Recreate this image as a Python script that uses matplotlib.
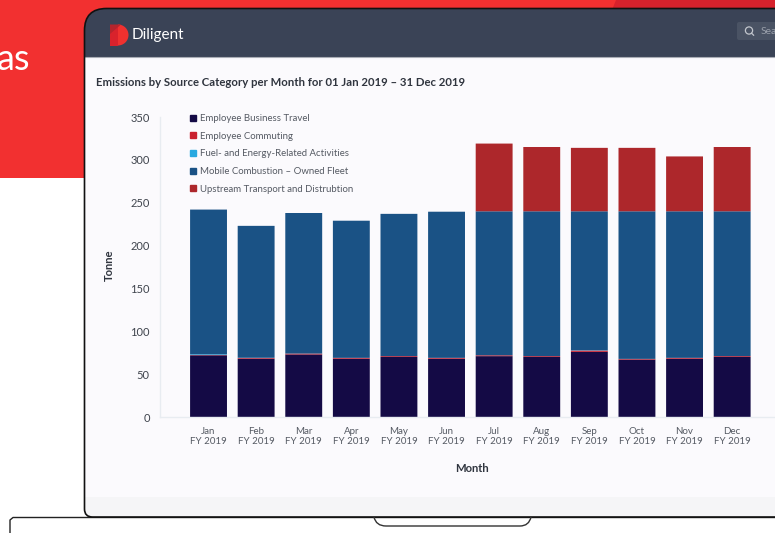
import matplotlib
matplotlib.use("Agg")
import matplotlib.pyplot as plt
from matplotlib.path import Path
from matplotlib.patches import PathPatch, Rectangle, Wedge, Circle, FancyBboxPatch, Polygon
from matplotlib.lines import Line2D

plt.rcParams['font.family'] = ['Lato', 'DejaVu Sans']

months = ["Jan", "Feb", "Mar", "Apr", "May", "Jun", "Jul", "Aug", "Sep", "Oct", "Nov", "Dec"]
tick_labels = [m + "\nFY 2019" for m in months]
y_ticks = [0, 50, 100, 150, 200, 250, 300, 350]
series_names = ["Employee Business Travel", "Employee Commuting",
                "Fuel- and Energy-Related Activities",
                "Mobile Combustion \u2013 Owned Fleet",
                "Upstream Transport and Distrubtion"]
business_travel = [72, 68, 73, 68, 70, 68, 71, 70, 76, 67, 68, 70]
commuting = [0.4, 0.8, 1, 1, 1, 1, 1, 1, 1.5, 0.8, 1, 1]
fuel_energy = [0.8, 0.3, 0, 0, 0, 0, 0, 0, 0.3, 0, 0, 0]
mobile_combustion = [168.8, 153.9, 164, 160, 166, 170.5, 168, 169, 162.2, 172.2, 171, 169]
upstream = [0, 0, 0, 0, 0, 0, 79, 75, 74, 74, 64, 75]
series = [business_travel, commuting, fuel_energy, mobile_combustion, upstream]
colors = ["#140a45", "#c9202f", "#29a9e0", "#1a5285", "#ad272b"]

W, H = 775, 533
fig = plt.figure(figsize=(W / 100, H / 100), dpi=100, facecolor="white")

bg = fig.add_axes([0, 0, 1, 1])
bg.set_xlim(0, W)
bg.set_ylim(H, 0)
bg.axis("off")


def screen_path(x0, y0, x1, y1, rt, rb):
    """Panel with large top-left and small bottom-left corners, open to the right."""
    verts = [(x1, y0), (x0 + rt, y0), (x0, y0), (x0, y0 + rt),
             (x0, y1 - rb), (x0, y1), (x0 + rb, y1), (x1, y1), (x1, y0)]
    codes = [Path.MOVETO, Path.LINETO, Path.CURVE3, Path.CURVE3,
             Path.LINETO, Path.CURVE3, Path.CURVE3, Path.LINETO, Path.CLOSEPOLY]
    return Path(verts, codes)


# red backdrop
bg.add_patch(Rectangle((0, 0), W, 178, color="#f23030", lw=0, zorder=0))
bg.add_patch(Polygon([(616, 0), (W, 0), (W, 10), (612, 10)], color="#d6222c", lw=0, zorder=0.5))
bg.text(-3, 60, "as", color="white", fontsize=26, va="center", ha="left", zorder=1)

# screen
scr = screen_path(84.5, 8.5, W + 5, 517, 22, 8)
panel = PathPatch(scr, facecolor="#fbfafd", edgecolor="none", zorder=2)
bg.add_patch(panel)
foot = Rectangle((84, 497), W, 21, color="#f5f5f7", lw=0, zorder=2.1)
bg.add_patch(foot)
foot.set_clip_path(panel)
head = Rectangle((84, 8), W, 49, color="#3a4356", lw=0, zorder=2.2)
bg.add_patch(head)
head.set_clip_path(panel)
bg.add_line(Line2D([84, W], [57.3, 57.3], color="#a9adb5", lw=0.8, zorder=2.3))
bg.add_patch(PathPatch(scr, facecolor="none", edgecolor="#111111", lw=1.2, zorder=3))

# laptop base lines
bg.add_line(Line2D([10, 10, 13, W], [533, 520, 517.5, 517.5], color="#222222", lw=1.0, zorder=1.5))
base = Path([(374, 517), (376, 526), (386, 526), (520, 526), (529, 526), (531, 517)],
            [Path.MOVETO, Path.CURVE3, Path.CURVE3, Path.LINETO, Path.CURVE3, Path.CURVE3])
bg.add_patch(PathPatch(base, facecolor="none", edgecolor="#333333", lw=1.0, zorder=3))

# logo
bg.add_patch(Wedge((118, 35), 10.5, -90, 90, color="#f0312f", lw=0, zorder=4))
bg.add_patch(Rectangle((110, 24.5), 8, 21, color="#d9222c", lw=0, zorder=4))
bg.add_patch(Polygon([(110, 24.5), (121, 24.5), (110, 34)], color="#b5242c", lw=0, zorder=4.1))
bg.text(132, 35.5, "Diligent", color="white", fontsize=11, va="center", ha="left", zorder=4)

# search box
bg.add_patch(FancyBboxPatch((737, 22), 60, 18, boxstyle="round,pad=0,rounding_size=2",
                            facecolor="#4a5364", edgecolor="none", zorder=4))
bg.add_patch(Circle((749, 30.5), 3.6, facecolor="none", edgecolor="#c2c6cd", lw=0.9, zorder=5))
bg.add_line(Line2D([751.6, 753.6], [33.2, 35.2], color="#c2c6cd", lw=0.9, zorder=5))
bg.text(761, 31, "Search", color="#9aa0ab", fontsize=7.5, va="center", ha="left", zorder=5)

# title
bg.text(96.5, 82, "Emissions by Source Category per Month for 01 Jan 2019 \u2013 31 Dec 2019",
        color="#30353f", fontsize=8.2, fontweight="bold", va="center", ha="left", zorder=5)

# chart
left, right, top, bottom = 159.5, W, 117, 417
ax = fig.add_axes([left / W, 1 - bottom / H, (right - left) / W, (bottom - top) / H])
ax.patch.set_alpha(0)
x = list(range(len(months)))
base_vals = [0.0] * len(months)
for name, vals, col in zip(series_names, series, colors):
    bars = ax.bar(x, vals, width=0.775, bottom=base_vals, color=col, linewidth=0, label=name)
    for b in bars:
        b.set_snap(False)
    base_vals = [b + v for b, v in zip(base_vals, vals)]
ax.set_xlim(-1.03, 11.9)
ax.set_ylim(0, 350)
ax.set_xticks(x)
ax.set_xticklabels(tick_labels, fontsize=7.0, color="#555a63", linespacing=1.12)
ax.set_yticks(y_ticks)
ax.tick_params(axis="y", length=0, pad=7, labelsize=8, labelcolor="#3f444d")
ax.tick_params(axis="x", length=0, pad=7)
for s in ("top", "right"):
    ax.spines[s].set_visible(False)
for s in ("left", "bottom"):
    ax.spines[s].set_color("#e8ecf1")
    ax.spines[s].set_linewidth(1)
ax.set_ylabel("Tonne", fontsize=8.1, fontweight="bold", color="#30353f")
ax.yaxis.set_label_coords((115 - left) / (right - left), 0.505)
ax.set_xlabel("Month", fontsize=8.1, fontweight="bold", color="#30353f")
ax.xaxis.set_label_coords((472 - left) / (right - left), -(468 - bottom) / (bottom - top))
ax.xaxis.label.set_va("center")

leg_handles = [Line2D([], [], linestyle="", marker="s", markersize=4.6, color=c) for c in colors]
leg = ax.legend(leg_handles, series_names, loc="upper left",
                bbox_to_anchor=((188 - left) / (right - left), (bottom - 114.2) / (bottom - top)),
                frameon=False, fontsize=6.9, labelcolor="#555a63", handlelength=1.0,
                handletextpad=0.25, labelspacing=0.9, borderpad=0, borderaxespad=0)

fig.savefig("out.png", dpi=100)
